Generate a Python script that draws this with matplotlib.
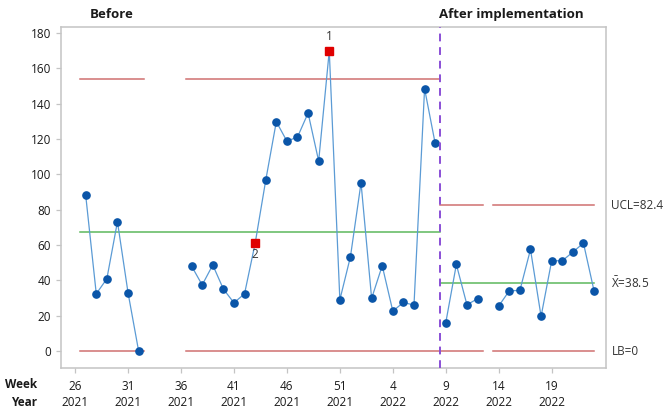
import matplotlib
matplotlib.use('Agg')
import matplotlib.pyplot as plt
import matplotlib.transforms as mtransforms
import numpy as np

plt.rcParams['font.family'] = ['Open Sans', 'DejaVu Sans']
plt.rcParams['mathtext.fontset'] = 'custom'
plt.rcParams['mathtext.rm'] = 'Open Sans'

# observation index 0..49 -> week 26/2021 .. week 23/2022
week_no = list(range(26, 53)) + list(range(1, 24))
year_no = [2021] * 27 + [2022] * 23
nan = np.nan
values = [nan,
          88.3, 32.4, 40.9, 73.2, 33.0, 0.0,
          nan, nan, nan, nan,
          48.1, 37.4, 48.7, 35.1, 27.3, 32.4, 60.9, 96.6,
          129.8, 118.8, 121.1, 134.7, 107.5, 169.9,
          29.0, 53.4, 95.2, 29.8, 48.3, 22.6, 27.5, 26.0, 148.5, 117.5,
          16.0, 49.0, 26.2, 29.6,
          nan,
          25.5, 34.1, 34.3, 57.5, 19.6, 51.1, 51.1, 56.0, 61.1, 34.1]

stage_names = ['Before', 'After implementation']
stage_start = [0, 35]
stage_end = [34, 49]
stage_cl = [67.5, 38.5]
stage_ucl = [153.8, 82.4]
stage_lb = [0.0, 0.0]

flagged_idx = [24, 17]
flagged_lbl = ['1', '2']

tick_idx = [0, 5, 10, 15, 20, 25, 30, 35, 40, 45]

BLUE_LINE = '#5b9bd5'
BLUE_DOT = '#0a55a8'
RED_LIM = '#d07070'
GREEN = '#5cb85c'
PURPLE = '#8a4fd6'
FRAME = '#c4c4c4'
TXT = '#1a1a1a'

t = np.arange(len(values))
y = np.array(values, dtype=float)

fig = plt.figure(figsize=(6.71, 4.17), dpi=100)
ax = fig.add_axes([61 / 671, 49 / 417, 545 / 671, 341 / 417])


def runs(idx):
    """split a list of indices with data into contiguous runs"""
    out, cur = [], []
    for i in idx:
        if cur and i != cur[-1] + 1:
            out.append(cur)
            cur = []
        cur.append(i)
    if cur:
        out.append(cur)
    return out


last_t = len(values) - 1
for s in range(len(stage_names)):
    idx = [i for i in range(stage_start[s], stage_end[s] + 1) if not np.isnan(y[i])]
    for r in runs(idx):
        x0 = r[0] - 0.5
        x1 = min(r[-1] + 0.5, last_t)
        ax.plot([x0, x1], [stage_ucl[s]] * 2, color=RED_LIM, lw=1.1, zorder=1)
        ax.plot([x0, x1], [stage_lb[s]] * 2, color=RED_LIM, lw=1.1, zorder=1)
    # center line spans whole stage
    first = idx[0] - 0.5
    ax.plot([first, min(stage_end[s] + 0.5, last_t)], [stage_cl[s]] * 2,
            color=GREEN, lw=1.1, zorder=1)
    seg = slice(stage_start[s], stage_end[s] + 1)
    ax.plot(t[seg], y[seg], color=BLUE_LINE, lw=0.9, zorder=2)
    ax.plot(t[seg], y[seg], 'o', color=BLUE_DOT, ms=5.2, mec=BLUE_DOT, zorder=3)

for i, lbl in zip(flagged_idx, flagged_lbl):
    ax.plot(t[i], y[i], 's', color='#e00000', ms=5.4, mec='#e00000', zorder=4)
    above = y[i] > stage_cl[0]
    ax.annotate(lbl, (t[i], y[i]), xytext=(0, 10 if above else -8),
                textcoords='offset points', ha='center', va='center',
                fontsize=8.5, color='#333333')

# stage divider
ax.axvline(stage_start[1] - 0.5, color=PURPLE, lw=1.4, ls=(0, (4, 3)), zorder=5)

ax.set_xlim(-1.33, 50.13)
ax.set_ylim(-9.6, 183.4)
ax.set_yticks(np.arange(0, 181, 20))
ax.set_xticks(tick_idx)
ax.set_xticklabels([str(week_no[i]) for i in tick_idx])
ax.tick_params(axis='both', colors=FRAME, labelcolor=TXT, labelsize=8.5,
               length=3.5, width=0.9)
ax.tick_params(axis='x', pad=5)
for sp in ax.spines.values():
    sp.set_color(FRAME)
    sp.set_linewidth(1.1)

trans = mtransforms.blended_transform_factory(ax.transData, ax.transAxes)
for i in tick_idx:
    ax.text(t[i], -0.1, str(year_no[i]), transform=trans, ha='center', va='center',
            fontsize=8.5, color=TXT)

fig.text(37 / 671, 1 - 385 / 417, 'Week', ha='right', va='center',
         fontsize=8.5, fontweight='bold', color=TXT)
fig.text(37 / 671, 1 - 402 / 417, 'Year', ha='right', va='center',
         fontsize=8.5, fontweight='bold', color=TXT)

# stage titles
stage_title_x = [3.5, 41.2]
for name, xx in zip(stage_names, stage_title_x):
    ax.text(xx, 1.037, name, transform=trans, ha='center', va='center',
            fontsize=9.5, fontweight='bold', color=TXT)

# right-hand limit labels (last stage)
rtrans = mtransforms.blended_transform_factory(ax.transAxes, ax.transData)
ax.text(1.01, stage_ucl[1], f'UCL={stage_ucl[1]:.1f}', transform=rtrans,
        ha='left', va='center', fontsize=8.5, color='#333333')
ax.text(1.01, stage_cl[1], r'$\bar{\mathrm{X}}$' + f'={stage_cl[1]:.1f}', transform=rtrans,
        ha='left', va='center', fontsize=8.5, color='#333333')
ax.text(1.01, stage_lb[1], f'LB={stage_lb[1]:.0f}', transform=rtrans,
        ha='left', va='center', fontsize=8.5, color='#333333')

fig.savefig('out.png', dpi=100)
